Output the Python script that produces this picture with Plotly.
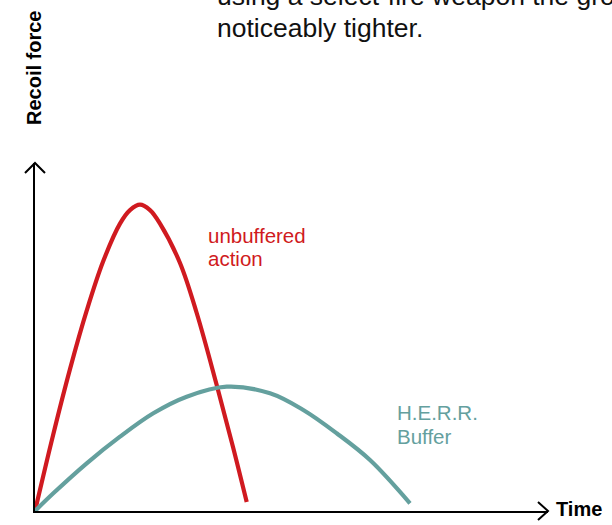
import plotly.graph_objects as go

# Data (arbitrary units)
time_unbuffered = [0.0, 0.36, 0.70, 1.034, 1.36, 1.70, 1.90, 2.10, 2.30, 2.50, 2.90, 3.234, 3.634, 3.96, 4.234]
force_unbuffered = [0.0, 2.52, 4.73, 6.677, 8.307, 9.58, 10.03, 10.21, 10.03, 9.58, 8.267, 6.60, 4.20, 2.133, 0.30]

time_herr = [0.0, 0.366, 1.034, 1.70, 2.366, 3.034, 3.834, 4.70, 5.366, 6.034, 6.70, 7.50]
force_herr = [0.0, 0.59, 1.59, 2.477, 3.257, 3.81, 4.143, 3.923, 3.367, 2.59, 1.70, 0.257]

x_label = "Time"
y_label = "Recoil force"
label_unbuffered = ["unbuffered", "action"]
label_herr = ["H.E.R.R.", "Buffer"]
caption_lines = ["using a select-fire weapon the group is", "noticeably tighter."]

RED = "#d01a20"
TEAL = "#64a09e"
FONT = "Liberation Sans, Arial, Helvetica, sans-serif"

W, H = 612, 525
L, R, T, B = 35, 64, 163, 14
PW, PH = W - L - R, H - T - B


def px(xp):
    return (xp - L) / PW


def py(yp):
    return (H - B - yp) / PH


fig = go.Figure()
fig.add_trace(go.Scatter(x=time_unbuffered, y=force_unbuffered, mode="lines",
                         line=dict(color=RED, width=4.2, shape="spline", smoothing=1.0),
                         hoverinfo="skip", showlegend=False))
fig.add_trace(go.Scatter(x=time_herr, y=force_herr, mode="lines",
                         line=dict(color=TEAL, width=4.2, shape="spline", smoothing=1.0),
                         hoverinfo="skip", showlegend=False))

ax = dict(showgrid=False, zeroline=False, showticklabels=False, ticks="",
          showline=True, linecolor="black", linewidth=2, fixedrange=True)
fig.update_xaxes(range=[0, PW / 50.0], **ax)
fig.update_yaxes(range=[0, PH / 30.0], **ax)

# Arrow heads (open chevrons)
dx, dy = 10.0 / PW, 10.0 / PH
fig.add_shape(type="path", xref="paper", yref="paper",
              path=f"M {1-dx},{9.0/PH} L 1,0 L {1-dx},{-9.0/PH}",
              line=dict(color="black", width=2))
fig.add_shape(type="path", xref="paper", yref="paper",
              path=f"M {-dx},{1-dy} L 0,1 L {dx},{1-dy}",
              line=dict(color="black", width=2))

fig.add_annotation(text=f"<b>{x_label}</b>", xref="paper", yref="paper",
                   x=px(554), y=py(509), xanchor="left", yanchor="middle",
                   showarrow=False, font=dict(family=FONT, size=20, color="black"))
fig.add_annotation(text=f"<b>{y_label}</b>", xref="paper", yref="paper", textangle=-90,
                   x=px(34), y=py(68), xanchor="center", yanchor="middle",
                   showarrow=False, font=dict(family=FONT, size=20, color="black"))

for t, yc in zip(label_unbuffered, [235, 258]):
    fig.add_annotation(text=t, xref="paper", yref="paper",
                       x=px(206), y=py(yc), xanchor="left", yanchor="middle",
                       align="left", showarrow=False, font=dict(family=FONT, size=20.5, color=RED))
for t, yc in zip(label_herr, [412, 436]):
    fig.add_annotation(text=t, xref="paper", yref="paper",
                       x=px(395), y=py(yc), xanchor="left", yanchor="middle",
                       align="left", showarrow=False, font=dict(family=FONT, size=20.5, color=TEAL))

for t, yc in zip(caption_lines, [-4.5, 28]):
    fig.add_annotation(text=t, xref="paper", yref="paper",
                       x=px(215), y=py(yc), xanchor="left", yanchor="middle",
                       align="left", showarrow=False, font=dict(family=FONT, size=26.5, color="#111111"))

fig.update_layout(width=W, height=H, margin=dict(l=L, r=R, t=T, b=B, pad=0),
                  plot_bgcolor="white", paper_bgcolor="white")

fig.write_html("out.html", config={"displayModeBar": False},
               post_script="document.body.style.margin='0';document.body.style.padding='0';")
